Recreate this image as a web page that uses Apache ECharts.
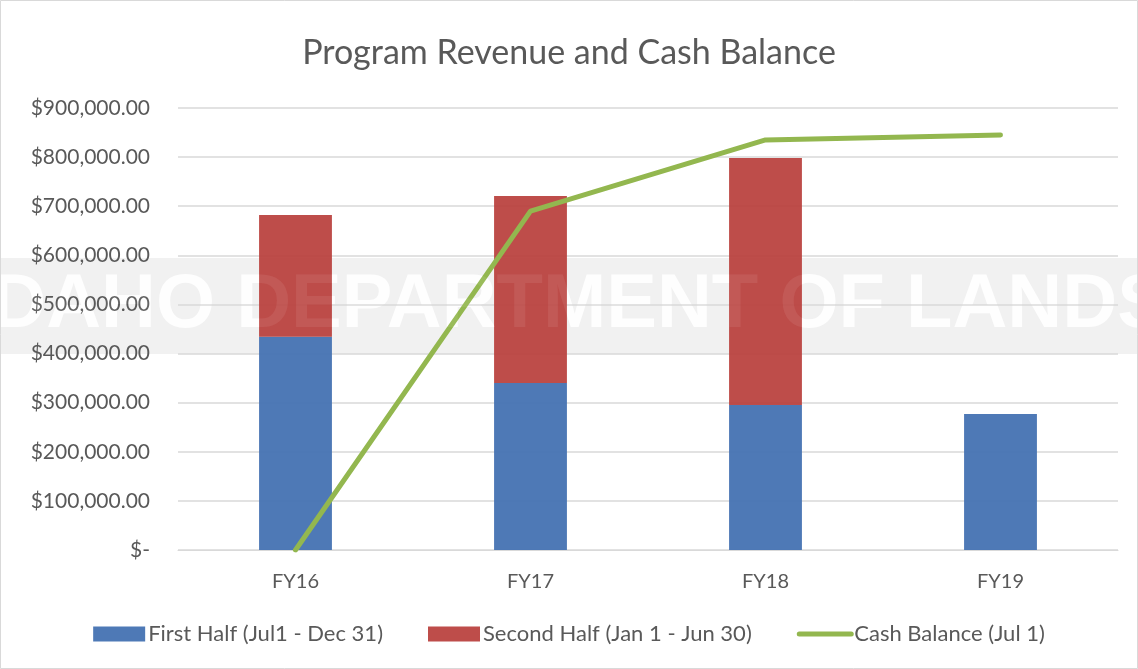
<!DOCTYPE html>
<html>
<head>
<meta charset="utf-8">
<script src="https://cdn.jsdelivr.net/npm/echarts@6/dist/echarts.min.js"></script>
<style>
  html, body { margin: 0; padding: 0; background: #fff; }
  #chart { width: 1138px; height: 669px; }
</style>
</head>
<body>
<div id="chart"></div>
<script>
// fiscal years on the x axis
const categories = ['FY16', 'FY17', 'FY18', 'FY19'];
// revenue halves and cash balance
const firstHalf = [434000, 340000, 295000, 277000];
const secondHalf = [248000, 381000, 503000, null];
const cashBalance = [0, 690000, 835000, 845000];

const chart = echarts.init(document.getElementById('chart'));

function money(v) {
    if (v === 0) return '$-';
    return '$' + v.toLocaleString('en-US', { minimumFractionDigits: 2, maximumFractionDigits: 2 });
}

const option = {
    backgroundColor: '#fff',
    textStyle: { fontFamily: 'Lato' },
    title: {
        text: 'Program Revenue and Cash Balance',
        left: 'center',
        top: 31,
        textStyle: { fontSize: 34, fontWeight: 'normal', color: '#595959', fontFamily: 'Lato' }
    },
    // faint watermark band like the one behind the original
    graphic: [
        {
            type: 'rect', z: -10, silent: true,
            shape: { x: 0, y: 258, width: 1138, height: 96 },
            style: { fill: '#f1f1f1' }
        },
        {
            type: 'text', z: -9, silent: true,
            left: 'center', top: 268,
            style: { text: 'IDAHO DEPARTMENT OF LANDS', fontSize: 76, fontWeight: 'bold', fill: 'rgba(255,255,255,0.9)', fontFamily: 'Liberation Sans' }
        },
        {
            type: 'text', z: 50, silent: true,
            left: 'center', top: 268,
            style: { text: 'IDAHO DEPARTMENT OF LANDS', fontSize: 76, fontWeight: 'bold', fill: 'rgba(255,255,255,0.07)', fontFamily: 'Liberation Sans' }
        },
        {
            type: 'rect', z: 100, silent: true,
            shape: { x: 0.5, y: 0.5, width: 1137, height: 668 },
            style: { fill: 'none', stroke: '#d9d9d9', lineWidth: 1 }
        }
    ],
    legend: {
        bottom: 19,
        left: 'center',
        itemGap: 45,
        itemWidth: 52,
        itemHeight: 15,
        textStyle: { fontSize: 22, color: '#595959', fontFamily: 'Lato', padding: [0, 0, 0, -2] },
        data: [
            { name: 'First Half (Jul1 - Dec 31)', icon: 'rect' },
            { name: 'Second Half (Jan 1 - Jun 30)', icon: 'rect' },
            {
                name: 'Cash Balance (Jul 1)',
                itemStyle: { color: 'rgba(0,0,0,0)', borderWidth: 0 },
                lineStyle: { color: '#93b74f', width: 5, cap: 'round' }
            }
        ]
    },
    grid: { left: 178, right: 20, top: 108, bottom: 119 },
    xAxis: {
        type: 'category',
        data: categories,
        axisLine: { lineStyle: { color: '#d9d9d9', width: 1 } },
        axisTick: { show: false },
        axisLabel: { fontSize: 20, color: '#595959', margin: 22 }
    },
    yAxis: {
        type: 'value',
        min: 0,
        max: 900000,
        interval: 100000,
        axisLine: { show: false },
        axisTick: { show: false },
        splitLine: { lineStyle: { color: '#d9d9d9', width: 1.5 } },
        axisLabel: {
            fontSize: 21, color: '#595959', margin: 28,
            formatter: money
        }
    },
    series: [
        {
            name: 'First Half (Jul1 - Dec 31)',
            type: 'bar',
            stack: 'rev',
            barWidth: '31%',
            itemStyle: { color: 'rgba(68,114,178,0.95)' },
            data: firstHalf
        },
        {
            name: 'Second Half (Jan 1 - Jun 30)',
            type: 'bar',
            stack: 'rev',
            barWidth: '31%',
            itemStyle: { color: 'rgba(185,64,60,0.93)' },
            data: secondHalf
        },
        {
            name: 'Cash Balance (Jul 1)',
            type: 'line',
            symbol: 'circle',
            symbolSize: 0,
            showSymbol: false,
            lineStyle: { color: '#93b74f', width: 5, cap: 'round' },
            itemStyle: { color: '#93b74f' },
            data: cashBalance
        }
    ]
};

chart.setOption(option);
</script>
</body>
</html>
